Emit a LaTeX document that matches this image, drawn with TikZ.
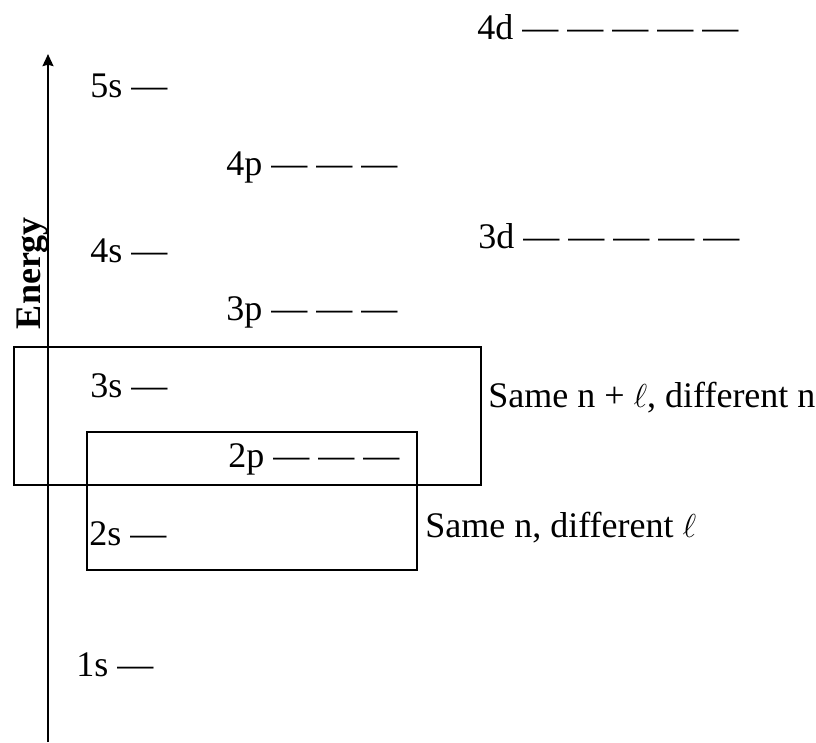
\documentclass[tikz,border=0pt]{standalone}
\usepackage{fontspec}
\setmainfont{Liberation Serif}
\usetikzlibrary{arrows.meta}
\begin{document}
\begin{tikzpicture}[x=0.75pt,y=-0.75pt,
  lvl/.style={anchor=base west,inner sep=0pt,font=\fontsize{27}{30}\selectfont},
  note/.style={anchor=base west,inner sep=0pt,font=\fontsize{27}{30}\selectfont},
  groupbox/.style={draw,line width=1pt},
  axis/.style={line width=1.8pt,-{Stealth[length=9pt,width=8pt,inset=1pt]}}]
\useasboundingbox (0,0) rectangle (816,742);
\node[lvl] (l4d) at (477,40) {4d — — — — —};
\node[lvl] (l5s) at (90,97) {5s —};
\node[lvl] (l4p) at (226,175) {4p — — —};
\node[lvl] (l3d) at (478,248) {3d — — — — —};
\node[lvl] (l4s) at (90,262) {4s —};
\node[lvl] (l3p) at (226,320) {3p — — —};
\node[lvl] (l3s) at (90,397) {3s —};
\node[lvl] (l2p) at (228,467) {2p — — —};
\node[lvl] (l2s) at (89,545) {2s —};
\node[lvl] (l1s) at (76,676) {1s —};
\coordinate (abot) at (48,742);
\coordinate (atop) at (48,54);
\draw[axis] (abot) -- (atop);
\node[rotate=90,anchor=base,inner sep=0pt,font=\fontsize{27}{30}\selectfont\bfseries] (energy) at (40,273) {Energy};
\draw[groupbox] (14,347) rectangle (481,485);
\draw[groupbox] (87,432) rectangle (417,570);
\node[note] (n1) at (488,407) {Same n + $\ell$, different n};
\node[note] (n2) at (425,537) {Same n, different $\ell$};
\end{tikzpicture}
\end{document}
